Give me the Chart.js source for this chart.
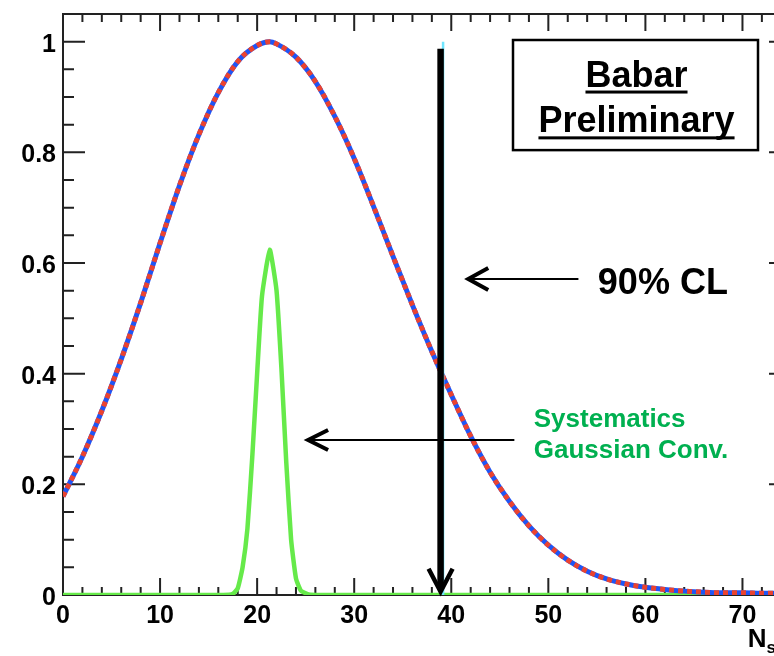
<!DOCTYPE html>
<html>
<head>
<meta charset="utf-8">
<script src="https://cdn.jsdelivr.net/npm/chart.js@4"></script>
<style>
  html, body { margin: 0; padding: 0; background: #fff; overflow: hidden; }
  canvas { display: block; }
</style>
</head>
<body>
<canvas id="clPlot" width="800" height="656"></canvas>
<script>
// Likelihood scan vs N_sig (blue + red dashed) and the systematics kernel (green)
const nSig = [0, 2, 4, 6, 8, 10, 12, 14, 16, 18, 20, 21.3, 22, 24, 26, 28, 30, 32, 34, 36, 38,
  40, 42, 44, 46, 48, 50, 52, 54, 56, 58, 60, 62, 64, 66, 68, 70, 72, 75];
const likelihood = [0.178, 0.250, 0.333, 0.426, 0.528, 0.636, 0.740, 0.832, 0.908, 0.964,
  0.993, 1.0, 0.996, 0.972, 0.928, 0.865, 0.789, 0.702, 0.612, 0.524, 0.440,
  0.362, 0.287, 0.222, 0.169, 0.125, 0.090, 0.063, 0.043, 0.029, 0.020,
  0.014, 0.010, 0.007, 0.005, 0.004, 0.004, 0.003, 0.003];

const systX = [0, 16.5, 17.5, 18, 18.5, 19, 19.5, 20, 20.5, 21.3, 22, 22.5, 23, 23.5, 24, 24.5, 25.3, 26.5, 75];
const systY = [0, 0, 0.002, 0.012, 0.05, 0.12, 0.25, 0.40, 0.54, 0.624, 0.55, 0.41, 0.24, 0.10, 0.03, 0.008, 0.001, 0, 0];

const xTicks = [0, 10, 20, 30, 40, 50, 60, 70];
const xTickLabels = ['0', '10', '20', '30', '40', '50', '60', '70'];
const yTicks = [0, 0.2, 0.4, 0.6, 0.8, 1];
const yTickLabels = ['0', '0.2', '0.4', '0.6', '0.8', '1'];

const upperLimit90 = 38.9;

const FONT = '"Liberation Sans", Arial, Helvetica, sans-serif';

const toPoints = (xs, ys) => xs.map((v, i) => ({ x: v, y: ys[i] }));
const noScalePadding = (s) => {
  s.paddingTop = 0; s.paddingBottom = 0; s.paddingLeft = 0; s.paddingRight = 0;
};

// ROOT-style frame: ticks point inward on all four sides
const rootFrame = {
  id: 'rootFrame',
  beforeDatasetsDraw(chart) {
    const { ctx, chartArea: a, scales: { x, y } } = chart;
    ctx.save();
    ctx.strokeStyle = '#222';
    ctx.lineWidth = 2;
    ctx.strokeRect(a.left, a.top, a.width, a.height);
    ctx.beginPath();
    for (let v = 0; v <= 75; v += 2) {
      const px = x.getPixelForValue(v);
      const len = v % 10 === 0 ? 17 : 8;
      ctx.moveTo(px, a.bottom); ctx.lineTo(px, a.bottom - len);
      ctx.moveTo(px, a.top); ctx.lineTo(px, a.top + len);
    }
    for (let i = 0; i <= 21; i++) {
      const py = y.getPixelForValue(i * 0.05);
      const len = i % 4 === 0 ? 22 : 11;
      ctx.moveTo(a.left, py); ctx.lineTo(a.left + len, py);
      ctx.moveTo(a.right, py); ctx.lineTo(a.right - len, py);
    }
    ctx.stroke();
    ctx.restore();
  }
};

// arrows, labels and the "Babar Preliminary" box
const notes = {
  id: 'notes',
  afterDatasetsDraw(chart) {
    const { ctx, chartArea: a, scales: { x, y } } = chart;
    const X = v => x.getPixelForValue(v);
    const Y = v => y.getPixelForValue(v);
    const path = (pts) => {
      ctx.beginPath();
      pts.forEach(([px, py], i) => (i ? ctx.lineTo(px, py) : ctx.moveTo(px, py)));
      ctx.stroke();
    };
    ctx.save();
    ctx.lineCap = 'butt';

    // 90% CL limit arrow, with a thin cyan marker peeking out behind it
    const lx = X(upperLimit90);
    const tipY = Y(0.006);
    ctx.strokeStyle = '#6fe6ff';
    ctx.lineWidth = 2.5;
    path([[lx + 2.5, Y(1.0)], [lx + 2.5, Y(0)]]);

    ctx.strokeStyle = '#000';
    ctx.lineWidth = 6.5;
    path([[lx, Y(0.987)], [lx, tipY - 2]]);
    ctx.lineWidth = 4.5;
    ctx.lineJoin = 'miter';
    path([[lx - 12, tipY - 23], [lx, tipY], [lx + 12, tipY - 23]]);

    // pointer to the limit line
    const clY = Y(0.571);
    ctx.lineWidth = 2;
    path([[X(53.1), clY], [X(41.75), clY]]);
    ctx.lineWidth = 4;
    path([[X(41.75) + 20, clY - 11], [X(41.75), clY], [X(41.75) + 20, clY + 11]]);

    ctx.fillStyle = '#000';
    ctx.font = 'bold 36px ' + FONT;
    ctx.textAlign = 'left';
    ctx.textBaseline = 'alphabetic';
    ctx.fillText('90% CL', X(55.1), Y(0.544));

    // pointer to the systematics kernel
    const sY = Y(0.28);
    ctx.lineWidth = 2;
    path([[X(46.5), sY], [X(25.25), sY]]);
    ctx.lineWidth = 4;
    path([[X(25.25) + 20, sY - 10], [X(25.25), sY], [X(25.25) + 20, sY + 10]]);

    ctx.fillStyle = '#00b050';
    ctx.font = 'bold 26px ' + FONT;
    ctx.fillText('Systematics', X(48.5), Y(0.304));
    ctx.fillText('Gaussian Conv.', X(48.5), Y(0.247));

    // Babar Preliminary box
    const bx0 = X(46.36), bx1 = X(71.6), by0 = Y(1.003), by1 = Y(0.804);
    ctx.fillStyle = '#fff';
    ctx.fillRect(bx0, by0, bx1 - bx0, by1 - by0);
    ctx.strokeStyle = '#000';
    ctx.lineWidth = 2.5;
    ctx.strokeRect(bx0, by0, bx1 - bx0, by1 - by0);
    ctx.fillStyle = '#000';
    ctx.font = 'bold 36px ' + FONT;
    ctx.textAlign = 'center';
    const cx = (bx0 + bx1) / 2 + 1;
    [['Babar', Y(0.918), 3.5], ['Preliminary', Y(0.837), 4.5]].forEach(([t, base, off]) => {
      ctx.fillText(t, cx, base);
      const w = ctx.measureText(t).width;
      ctx.fillRect(cx - w / 2, base + off, w, 3);
    });

    // axis title N_sig, right-aligned to the frame end
    ctx.textAlign = 'left';
    ctx.font = 'bold 17px ' + FONT;
    const subW = ctx.measureText('sig').width;
    ctx.font = 'bold 26px ' + FONT;
    const nW = ctx.measureText('N').width;
    const titleX = a.right - subW - nW;
    ctx.fillText('N', titleX, 647);
    ctx.font = 'bold 17px ' + FONT;
    ctx.fillText('sig', titleX + nW, 653);

    ctx.restore();
  }
};

new Chart(document.getElementById('clPlot'), {
  type: 'scatter',
  data: {
    datasets: [
      {
        data: toPoints(nSig, likelihood),
        showLine: true,
        borderColor: '#ea4330',
        borderWidth: 5,
        borderDash: [5, 4],
        pointRadius: 0,
        cubicInterpolationMode: 'monotone',
        order: 0,
      },
      {
        data: toPoints(nSig, likelihood),
        showLine: true,
        borderColor: '#1f55f5',
        borderWidth: 5,
        pointRadius: 0,
        cubicInterpolationMode: 'monotone',
        order: 1,
      },
      {
        data: toPoints(systX, systY),
        showLine: true,
        borderColor: '#66ea4a',
        borderWidth: 4.5,
        pointRadius: 0,
        tension: 0.15,
        order: 2,
      },
    ],
  },
  options: {
    responsive: false,
    animation: false,
    events: [],
    layout: { padding: { top: 14, right: 9 } },
    plugins: { legend: { display: false }, tooltip: { enabled: false } },
    scales: {
      x: {
        type: 'linear',
        min: 0,
        max: 75,
        afterFit: (s) => { s.height = 61; noScalePadding(s); },
        afterBuildTicks: (s) => { s.ticks = xTicks.map((v) => ({ value: v })); },
        grid: { display: false, drawTicks: false },
        border: { display: false },
        ticks: {
          autoSkip: false,
          maxRotation: 0,
          padding: 6,
          color: '#000',
          font: { family: FONT, size: 25, weight: 'bold' },
          callback: (v) => xTickLabels[xTicks.indexOf(v)],
        },
      },
      y: {
        type: 'linear',
        min: 0,
        max: 1.05,
        afterFit: (s) => { s.width = 63; noScalePadding(s); },
        afterBuildTicks: (s) => { s.ticks = yTicks.map((v) => ({ value: v })); },
        grid: { display: false, drawTicks: false },
        border: { display: false },
        ticks: {
          autoSkip: false,
          padding: 7,
          labelOffset: 3,
          color: '#000',
          font: { family: FONT, size: 25, weight: 'bold' },
          callback: (v) => yTickLabels[yTicks.indexOf(v)],
        },
      },
    },
  },
  plugins: [rootFrame, notes],
});
</script>
</body>
</html>
